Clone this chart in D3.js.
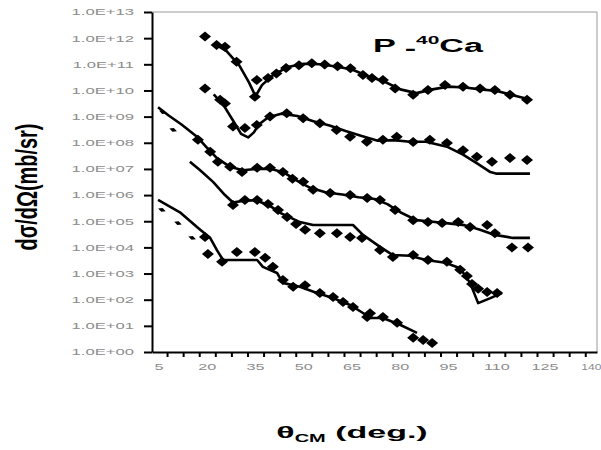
<!DOCTYPE html>
<html>
<head>
<meta charset="utf-8">
<script src="https://cdn.jsdelivr.net/npm/d3@7/dist/d3.min.js"></script>
<style>
  body { margin: 0; background: #fff; }
  svg { display: block; font-family: "Liberation Sans", Arial, sans-serif; }
</style>
</head>
<body>
<script>
// measured points (diamonds) and fitted curves, theta in deg, sigma in mb/sr
var s1Theta = [19.3, 22.9, 25.5, 29.1, 34.8, 35.4, 38.9, 41.5, 44.5, 48.5, 52.5, 56.5, 60.5, 64.5, 68.4, 71.2, 74.6, 78.4, 84, 88.6, 93.9, 99.5, 104.8, 109.4, 114.1, 119.4];
var s1Sigma = [1.15e12, 5.5e11, 4.7e11, 1.26e11, 5.8e9, 2.5e10, 3.0e10, 4.5e10, 7.2e10, 9.3e10, 1.1e11, 9.8e10, 8.5e10, 7.1e10, 3.9e10, 3.0e10, 2.5e10, 1.2e10, 6.8e9, 1.05e10, 1.6e10, 1.4e10, 1.2e10, 1.05e10, 6.8e9, 4.4e9];
var s1FitTheta = [22, 26, 30, 33, 35, 37, 40, 45, 50, 55, 60, 65, 70, 75, 80, 85, 90, 95, 100, 105, 110, 115, 120];
var s1Fit = [6.3e11, 3.2e11, 8.9e10, 2.0e10, 6.0e9, 1.6e10, 3.5e10, 7.9e10, 1.05e11, 1.0e11, 8.3e10, 6.3e10, 3.5e10, 2.2e10, 1.1e10, 7.9e9, 1.1e10, 1.4e10, 1.3e10, 1.1e10, 9.5e9, 6.6e9, 4.6e9];

var s2Theta = [19.3, 24, 25.5, 28, 31.7, 35.4, 39.5, 44.7, 49.8, 55, 60.2, 64.4, 69.6, 74.6, 78.9, 84, 89.2, 94.5, 99.5, 103.8, 108.5, 114.1, 119.4];
var s2Sigma = [1.2e10, 4.4e9, 3.2e9, 4.2e8, 3.7e8, 4.8e8, 1.0e9, 1.35e9, 8.7e8, 5.6e8, 3.1e8, 1.7e8, 1.1e8, 1.3e8, 1.7e8, 1.07e8, 1.3e8, 9.8e7, 5.2e7, 2.9e7, 1.9e7, 2.6e7, 2.2e7];
var s2FitTheta = [22, 25, 28, 30.5, 32.7, 34.5, 36, 39, 43, 48, 53, 58, 63, 68, 73, 78, 83, 88, 94.5, 99.5, 104, 108, 110, 120.3];
var s2Fit = [7.1e9, 2.8e9, 7.1e8, 2.2e8, 1.6e8, 2.5e8, 5.0e8, 9.5e8, 1.3e9, 1.05e9, 6.6e8, 4.6e8, 2.8e8, 1.8e8, 1.2e8, 1.26e8, 1.1e8, 1.1e8, 7.1e7, 3.5e7, 1.6e7, 7.6e6, 6.6e6, 6.6e6];

var s3Theta = [17.1, 20.9, 23.3, 27.1, 30.8, 35.5, 39.5, 43.5, 46.5, 49.8, 52.9, 58.2, 64.4, 69.7, 73.7, 78.4, 84, 88.6, 93, 98, 101.7, 107, 109.4, 114.7, 119.7];
var s3Sigma = [1.3e8, 4.5e7, 1.9e7, 1.2e7, 7.6e6, 1.1e7, 1.1e7, 7.6e6, 4.2e6, 3.2e6, 1.6e6, 1.2e6, 1.0e6, 7.8e5, 6.5e5, 2.7e5, 1.1e5, 9.3e4, 8.5e4, 9.3e4, 6.0e4, 7.2e4, 3.5e4, 1.0e4, 1.0e4];
var s3SmallTheta = [6.2, 9.4];
var s3SmallSigma = [1.5e9, 3.1e8];
var s3FitTheta = [4.7, 8, 12, 16.8, 20, 23, 27.1, 31, 35, 40, 44, 48, 52, 57, 62, 67, 72, 76, 80, 85, 90, 95, 100, 104.8, 109.4, 115, 120.3];
var s3Fit = [2.3e9, 1.1e9, 5.0e8, 1.7e8, 6.3e7, 2.6e7, 1.2e7, 8.9e6, 1.0e7, 1.0e7, 7.1e6, 3.5e6, 1.9e6, 1.26e6, 1.05e6, 8.3e5, 7.1e5, 4.5e5, 2.2e5, 1.1e5, 9.5e4, 8.3e4, 7.1e4, 4.7e4, 3.0e4, 2.3e4, 2.3e4];

var s4Theta = [28, 31.7, 35.5, 38.9, 42, 44.8, 47.6, 50.4, 55, 60.3, 64.4, 68.1, 73.7, 77.7, 84, 88.6, 94.5, 98.6, 100.7, 102.3, 104.2, 107, 110.1];
var s4Sigma = [4.2e5, 6.5e5, 6.5e5, 4.6e5, 2.7e5, 1.45e5, 7.8e4, 4.7e4, 3.5e4, 3.5e4, 2.5e4, 2.3e4, 7.9e3, 4.3e3, 5.1e3, 3.3e3, 2.8e3, 1.4e3, 8.1e2, 4.0e2, 2.6e2, 1.95e2, 1.8e2];
var s4FitTheta = [14.6, 17.7, 21.8, 25.5, 28, 31, 35, 39, 43, 48.8, 52.9, 65.3, 68.4, 73.7, 77.7, 83, 88, 94, 98.6, 101.7, 104.2, 108, 111.6];
var s4Fit = [1.9e7, 9.1e6, 3.2e6, 1.0e6, 5.2e5, 6.0e5, 6.3e5, 4.2e5, 2.0e5, 9.3e4, 7.2e4, 7.2e4, 3.0e4, 1.05e4, 5.1e3, 4.8e3, 3.3e3, 2.6e3, 1.6e3, 4.4e2, 74, 1.15e2, 1.8e2];

var s5Theta = [19.3, 20.2, 24.6, 29.2, 34.8, 38, 40.4, 43.5, 46.7, 50.4, 55, 59.1, 62.2, 65.3, 69.7, 70.6, 74.6, 79, 84, 87.1, 89.9];
var s5Sigma = [2.5e4, 5.6e3, 2.8e3, 6.6e3, 6.6e3, 4.0e3, 1.8e3, 5.6e2, 3.1e2, 3.6e2, 1.8e2, 1.26e2, 81, 52, 22, 30, 22, 13, 3.5, 2.9, 2.2];
var s5SmallTheta = [5.9, 10.9, 15.3];
var s5SmallSigma = [2.7e5, 8.5e4, 2.3e4];
var s5FitTheta = [4.7, 11.5, 16.8, 20.9, 23, 24.9, 35.5, 37.3, 41.7, 43.5, 48.8, 54.1, 59.1, 64.4, 68.4, 70.6, 74.6, 79.9, 85.2];
var s5Fit = [6.5e5, 2.2e5, 6.0e4, 2.3e4, 7.9e3, 3.3e3, 3.3e3, 1.8e3, 1.05e3, 4.4e2, 3.1e2, 1.8e2, 1.15e2, 63, 31, 20, 20, 11, 5.4];

// axis labels
var yTickValues = [1e0, 1e1, 1e2, 1e3, 1e4, 1e5, 1e6, 1e7, 1e8, 1e9, 1e10, 1e11, 1e12, 1e13];
var xTickLabels = [5, 20, 35, 50, 65, 80, 95, 110, 125, 140];
var yTitle = "dσ/dΩ(mb/sr)";
var reaction = "Ca";

var W = 601, H = 450;
var box = {left: 152, top: 12, right: 597, bottom: 352};

var svg = d3.select("body").append("svg")
    .attr("width", W)
    .attr("height", H);

var x = d3.scaleLinear().domain([2.82, 141.15]).range([box.left, box.right]);
var y = d3.scaleLog().domain([1, 1e13]).range([box.bottom, box.top]);

// frame (top and right, thin grey)
svg.append("path")
    .attr("d", "M" + box.left + "," + box.top + "H" + box.right + "V" + box.bottom)
    .attr("fill", "none")
    .attr("stroke", "#9a9a9a")
    .attr("stroke-width", 1);

// y axis
var yAxis = d3.axisLeft(y)
    .tickValues(yTickValues)
    .tickSize(8)
    .tickSizeOuter(0)
    .tickPadding(10)
    .tickFormat(function(d){
        var e = Math.round(Math.log10(d));
        return "1.0E+" + (e < 10 ? "0" + e : e);
    });

var gy = svg.append("g")
    .attr("transform", "translate(" + box.left + ",0)")
    .call(yAxis);
gy.select(".domain").attr("stroke", "#000").attr("stroke-width", 2);
gy.selectAll(".tick line").attr("stroke", "#000").attr("stroke-width", 2);
gy.selectAll(".tick text")
    .attr("x", null)
    .attr("transform", "translate(-18,0) scale(1.85,1)")
    .attr("font-size", 9)
    .attr("fill", "#8c8c8c")
    .attr("font-family", "'Liberation Sans', Arial, sans-serif");

// x axis, marks between labels
var xAxis = d3.axisBottom(x)
    .tickValues(d3.range(7.5, 140, 5))
    .tickSize(5)
    .tickSizeOuter(0)
    .tickFormat("");

var gx = svg.append("g")
    .attr("transform", "translate(0," + box.bottom + ")")
    .call(xAxis);
gx.select(".domain").attr("stroke", "#000").attr("stroke-width", 2);
gx.selectAll(".tick line").attr("stroke", "#000").attr("stroke-width", 2);

// last label sits right at the edge, as in the source; squeeze it a bit
svg.append("g").selectAll("text")
    .data(xTickLabels)
    .enter()
    .append("text")
    .attr("transform", function(d){
        return d === 140 ? "translate(" + (x(d) - 2) + ",370) scale(1.35,1)"
                         : "translate(" + x(d) + ",370) scale(1.8,1)";
    })
    .attr("text-anchor", "middle")
    .attr("font-size", 9)
    .attr("fill", "#8c8c8c")
    .text(function(d){ return d; });

// curves
var series = [
    {t: s1Theta, s: s1Sigma, ft: s1FitTheta, f: s1Fit},
    {t: s2Theta, s: s2Sigma, ft: s2FitTheta, f: s2Fit},
    {t: s3Theta, s: s3Sigma, ft: s3FitTheta, f: s3Fit, st: s3SmallTheta, ss: s3SmallSigma},
    {t: s4Theta, s: s4Sigma, ft: s4FitTheta, f: s4Fit},
    {t: s5Theta, s: s5Sigma, ft: s5FitTheta, f: s5Fit, st: s5SmallTheta, ss: s5SmallSigma}
];

var line = d3.line()
    .x(function(d){ return x(d[0]); })
    .y(function(d){ return y(d[1]); });

var diamond = "M0,-5L6,0L0,5L-6,0Z";
var smallDiamond = "M0,-2L4,0L0,2L-4,0Z";

var plot = svg.append("g");

series.forEach(function(sr){
    plot.append("path")
        .datum(sr.ft.map(function(t, i){ return [t, sr.f[i]]; }))
        .attr("d", line)
        .attr("fill", "none")
        .attr("stroke", "#000")
        .attr("stroke-width", 2.6)
        .attr("stroke-linejoin", "round");

    plot.append("g").selectAll("path")
        .data(sr.t.map(function(t, i){ return [t, sr.s[i]]; }))
        .enter()
        .append("path")
        .attr("d", diamond)
        .attr("transform", function(d){ return "translate(" + x(d[0]) + "," + y(d[1]) + ")"; })
        .attr("fill", "#000");

    if (sr.st) {
        plot.append("g").selectAll("path")
            .data(sr.st.map(function(t, i){ return [t, sr.ss[i]]; }))
            .enter()
            .append("path")
            .attr("d", smallDiamond)
            .attr("transform", function(d){ return "translate(" + x(d[0]) + "," + y(d[1]) + ") rotate(20)"; })
            .attr("fill", "#000");
    }
});

// reaction label
var lab = svg.append("text")
    .attr("transform", "translate(373,52) scale(1.9,1)")
    .attr("font-size", 18)
    .attr("font-weight", "bold")
    .attr("fill", "#000");
lab.append("tspan").text("P ");
lab.append("tspan").attr("dy", 3).text("-");
lab.append("tspan").attr("dy", -11).attr("font-size", 11).text("40");
lab.append("tspan").attr("dy", 8).text(reaction);

// axis titles
var xt = svg.append("text")
    .attr("transform", "translate(352,438) scale(2,1)")
    .attr("text-anchor", "middle")
    .attr("font-size", 17)
    .attr("font-weight", "bold")
    .attr("fill", "#000");
xt.append("tspan").text("θ");
xt.append("tspan").attr("dy", 4).attr("font-size", 10).text("CM");
xt.append("tspan").attr("dy", -4).text(" (deg.)");

svg.append("text")
    .attr("transform", "translate(27,187) scale(1.6,1) rotate(-90)")
    .attr("text-anchor", "middle")
    .attr("dominant-baseline", "central")
    .attr("font-size", 18)
    .attr("font-weight", "bold")
    .attr("fill", "#000")
    .attr("textLength", 127)
    .attr("lengthAdjust", "spacingAndGlyphs")
    .text(yTitle);
</script>
</body>
</html>
